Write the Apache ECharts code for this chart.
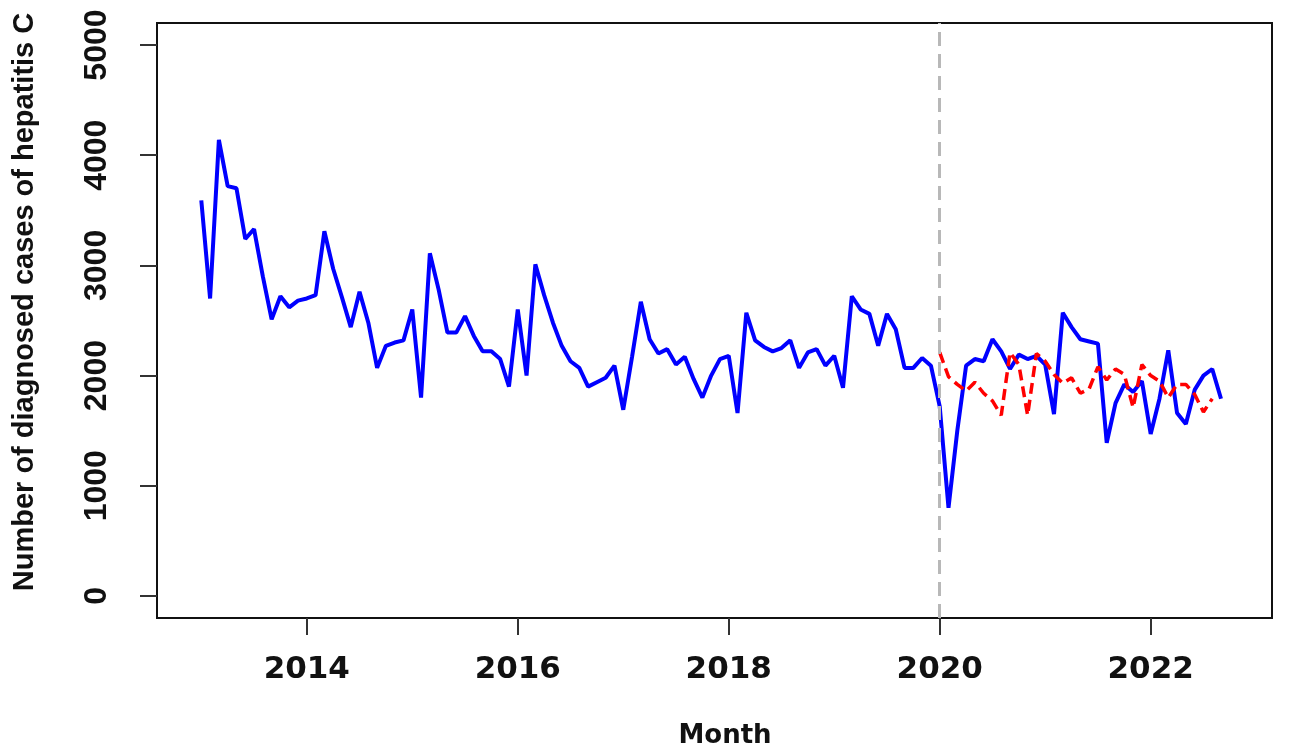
<!DOCTYPE html>
<html>
<head>
<meta charset="utf-8">
<script src="https://cdn.jsdelivr.net/npm/echarts@6/dist/echarts.min.js"></script>
<style>
html,body{margin:0;padding:0;background:#fff;}
#c{width:1290px;height:750px;}
</style>
</head>
<body>
<div id="c"></div>
<script>
// Monthly series starting January 2013
const startYear = 2013;
const observed = [
  3590, 2700, 4140, 3720, 3700, 3240, 3330, 2900, 2510, 2720, 2620, 2680,
  2700, 2730, 3310, 2970, 2710, 2440, 2760, 2480, 2070, 2270, 2300, 2320,
  2600, 1800, 3110, 2780, 2390, 2390, 2540, 2360, 2220, 2220, 2150, 1900,
  2600, 2000, 3010, 2730, 2480, 2270, 2130, 2070, 1900, 1940, 1980, 2090,
  1690, 2170, 2670, 2330, 2200, 2240, 2100, 2170, 1970, 1800, 2000, 2150,
  2180, 1660, 2570, 2320, 2260, 2220, 2250, 2320, 2070, 2210, 2240, 2090,
  2180, 1890, 2720, 2600, 2560, 2270, 2560, 2420, 2070, 2070, 2160, 2090,
  1720, 800, 1500, 2090, 2150, 2130, 2330, 2220, 2060, 2190, 2150, 2180,
  2100, 1650, 2570, 2440, 2330, 2310, 2290, 1390, 1750, 1920, 1850, 1950,
  1470, 1790, 2230, 1660, 1560, 1870, 2000, 2060, 1790
];
// Forecast series starting January 2020
const forecastStartYear = 2020;
const forecast = [
  2210, 1990, 1920, 1860, 1940, 1840, 1770, 1640, 2210, 2100, 1640, 2200,
  2130, 2010, 1930, 1980, 1840, 1880, 2080, 1960, 2060, 2010, 1710, 2100,
  2000, 1950, 1800, 1920, 1920, 1830, 1670, 1790
];
const xTicks = [2014, 2016, 2018, 2020, 2022];
const yTicks = [0, 1000, 2000, 3000, 4000, 5000];
const interventionYear = 2020;

const obsData = observed.map((v, i) => [startYear + i / 12, v]);
const fcData = forecast.map((v, i) => [forecastStartYear + i / 12, v]);

const chart = echarts.init(document.getElementById('c'), null, {renderer: 'canvas'});
chart.setOption({
  animation: false,
  backgroundColor: '#fff',
  grid: {
    left: 157, right: 18, top: 23, bottom: 132,
    show: true, borderColor: '#111', borderWidth: 2, backgroundColor: 'transparent'
  },
  xAxis: {
    type: 'value', min: 2012.58, max: 2023.15,
    axisLine: {show: false, onZero: false},
    splitLine: {show: false},
    axisTick: {show: true, inside: false, length: 17, customValues: xTicks,
      lineStyle: {color: '#333', width: 2}},
    axisLabel: {customValues: xTicks, margin: 36, color: '#111',
      fontFamily: 'DejaVu Sans', fontWeight: 'bold', fontSize: 31,
      formatter: v => String(v)}
  },
  yAxis: {
    type: 'value', min: -200, max: 5200,
    axisLine: {show: false, onZero: false},
    splitLine: {show: false},
    axisTick: {show: true, inside: false, length: 17, customValues: yTicks,
      lineStyle: {color: '#333', width: 2}},
    axisLabel: {customValues: yTicks, rotate: 90, margin: 44, color: '#111',
      fontFamily: 'Liberation Sans', fontWeight: 'bold', fontSize: 32,
      formatter: v => String(v)}
  },
  graphic: [
    {type: 'text', style: {
      text: 'Month', fill: '#111',
      font: 'bold 26px "DejaVu Sans"', align: 'center', verticalAlign: 'middle'
    }, x: 725, y: 736},
    {type: 'text', style: {
      text: 'Number of diagnosed cases of hepatitis C', fill: '#111',
      font: 'bold 29px "Liberation Sans"', align: 'center', verticalAlign: 'middle'
    }, x: 25, y: 302, rotation: Math.PI / 2}
  ],
  series: [
    {
      type: 'line', data: obsData, symbol: 'none', z: 3,
      lineStyle: {color: '#0000ff', width: 4},
      markLine: {
        silent: true, symbol: 'none', label: {show: false},
        lineStyle: {color: '#b8b8b8', type: [14, 8], width: 3},
        data: [{xAxis: interventionYear}]
      }
    },
    {
      type: 'line', data: fcData, symbol: 'none', z: 4,
      lineStyle: {color: '#ff0000', width: 3.5, type: [11, 6]}
    }
  ]
});
</script>
</body>
</html>
